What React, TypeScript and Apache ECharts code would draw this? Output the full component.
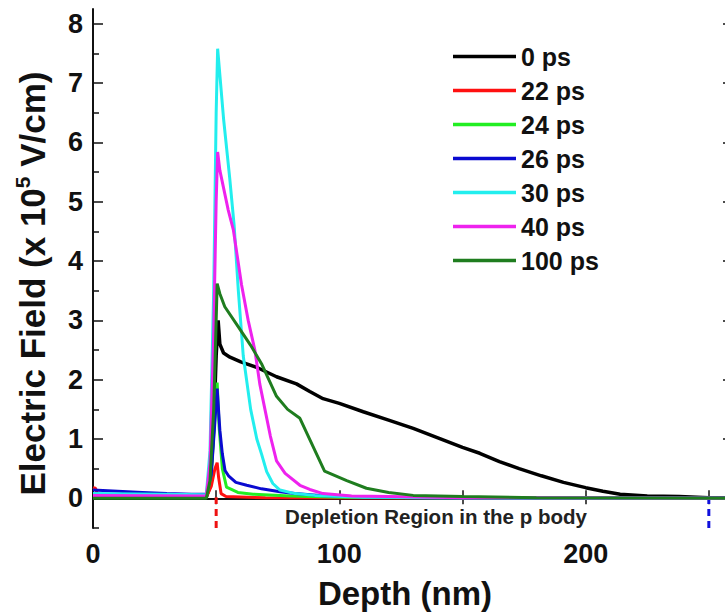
import React, { useEffect, useRef } from "react";
import * as echarts from "echarts";

const seriesNames = ["0 ps", "22 ps", "24 ps", "26 ps", "30 ps", "40 ps", "100 ps"];
const seriesColors = ["#000000", "#ff1010", "#22ee22", "#0a0ad0", "#22eeee", "#ee22ee", "#1f7d1f"];

const ps0: number[][] = [
  [0, 0.02], [46, 0.02], [47.5, 0.2], [49, 1.2], [50, 2.4], [50.8, 3.0], [51.5, 2.6], [53, 2.45],
  [55.6, 2.38], [60, 2.3], [66.4, 2.21], [74.5, 2.05], [82.6, 1.93], [88, 1.8], [93.4, 1.68],
  [100, 1.6], [109.7, 1.46], [120, 1.32], [130, 1.18], [140, 1.02], [150, 0.86], [157, 0.76],
  [165, 0.62], [173, 0.5], [182, 0.38], [191, 0.27], [200, 0.18], [207, 0.12], [214, 0.07],
  [225, 0.04], [238, 0.03], [250, 0.01], [259, 0.01],
];
const ps22: number[][] = [
  [0, 0.18], [1, 0.17], [2, 0.05], [3, 0.02], [46, 0.02], [48, 0.2], [49.5, 0.5], [50.4, 0.6],
  [51, 0.35], [52, 0.08], [54, 0.03], [70, 0.01], [259, 0],
];
const ps24: number[][] = [
  [0, 0.03], [46, 0.03], [48, 0.4], [49.5, 1.4], [50.4, 1.95], [51.2, 1.2], [52.5, 0.5],
  [54.2, 0.19], [58.8, 0.1], [65, 0.07], [80, 0.04], [100, 0.02], [130, 0.01], [259, 0],
];
const ps26: number[][] = [
  [0, 0.14], [10, 0.12], [20, 0.1], [30, 0.08], [40, 0.07], [46, 0.07], [48, 0.4], [49.5, 1.3],
  [50.4, 1.85], [51.5, 1.15], [52.5, 0.75], [53.6, 0.47], [55, 0.38], [58, 0.27], [62.4, 0.22],
  [68.4, 0.16], [75.9, 0.11], [82, 0.08], [92, 0.05], [105, 0.03], [130, 0.01], [259, 0],
];
const ps30: number[][] = [
  [0, 0.08], [46, 0.06], [47.5, 0.8], [49, 3.5], [50, 6.5], [50.6, 7.58], [53, 6.4], [55.5, 5.4],
  [57.3, 4.6], [59, 3.5], [61, 2.4], [64, 1.5], [66.5, 1.0], [68.4, 0.75], [70.5, 0.45],
  [73, 0.25], [75.9, 0.14], [82, 0.08], [90, 0.05], [110, 0.02], [140, 0.01], [259, 0],
];
const ps40: number[][] = [
  [0, 0.05], [46, 0.04], [47.5, 0.6], [49, 2.8], [50, 5.0], [50.6, 5.84], [51.5, 5.53],
  [54.9, 4.86], [57, 4.52], [60.3, 3.6], [63, 3.0], [65.7, 2.5], [67.7, 1.93], [69.8, 1.5],
  [72, 1.05], [74.5, 0.63], [78, 0.42], [84, 0.22], [88, 0.15], [93.4, 0.08], [105, 0.04],
  [120, 0.03], [150, 0.01], [259, 0],
];
const ps100: number[][] = [
  [0, 0.0], [46, 0.0], [47.5, 0.3], [49, 1.5], [50, 3.0], [50.4, 3.62], [51.5, 3.45],
  [53.5, 3.23], [59, 2.89], [64, 2.58], [68.4, 2.27], [74.5, 1.72], [79, 1.5], [84, 1.35],
  [94, 0.46], [103, 0.3], [111, 0.17], [120, 0.1], [130, 0.05],
  [150, 0.03], [180, 0.01], [259, 0],
];
const seriesData = [ps0, ps22, ps24, ps26, ps30, ps40, ps100];

const redMarker: number[][] = [[50, -0.5], [50, 0.02]];
const blueMarker: number[][] = [[250, -0.5], [250, 0.02]];

const xLabelValues = [0, 100, 200];
const xTickValues = [50, 100, 150, 200, 250];
const yLabelValues = [0, 1, 2, 3, 4, 5, 6, 7, 8];
const yMinorValues = [-0.5, 0.5, 1.5, 2.5, 3.5, 4.5, 5.5, 6.5, 7.5];

const X_MIN = 0;
const X_MAX = 259;
const Y_MIN = -0.5;
const Y_MAX = 8.25;

const FONT = "Liberation Sans, Arial, sans-serif";

export default function App() {
  const ref = useRef<HTMLDivElement>(null);
  useEffect(() => {
    if (!ref.current) return;
    const chart = echarts.init(ref.current, undefined, { renderer: "svg" });
    const axisLine = { show: true, lineStyle: { color: "#111", width: 2 } };
    const option: any = {
      animation: false,
      backgroundColor: "#ffffff",
      grid: { left: 93, top: 9, right: 9, bottom: 88, containLabel: false, outerBoundsMode: "none" },
      legend: {
        orient: "vertical",
        left: 448,
        top: 39,
        icon: "rect",
        itemWidth: 63,
        itemHeight: 3.5,
        itemGap: 9,
        data: seriesNames,
        textStyle: { fontFamily: FONT, fontWeight: "bold", fontSize: 25, color: "#111", padding: [0, 0, 0, 0] },
      },
      xAxis: [
        {
          type: "value",
          min: X_MIN,
          max: X_MAX,
          position: "bottom",
          axisLine,
          splitLine: { show: false },
          axisTick: { show: true, inside: true, length: 8, customValues: xTickValues, lineStyle: { color: "#111", width: 1.5 } },
          axisLabel: {
            show: true,
            customValues: xLabelValues,
            margin: 12,
            fontFamily: FONT,
            fontWeight: "bold",
            fontSize: 27,
            color: "#111",
          },
          name: "Depth (nm)",
          nameLocation: "middle",
          nameGap: 49,
          nameTextStyle: { fontFamily: FONT, fontWeight: "bold", fontSize: 33, color: "#111", padding: [0, 14, 0, 0] },
        },
        {
          type: "value",
          min: X_MIN,
          max: X_MAX,
          position: "top",
          axisLine,
          splitLine: { show: false },
          axisLabel: { show: false },
          axisTick: { show: true, inside: true, length: 6, customValues: xTickValues, lineStyle: { color: "#111", width: 1.5 } },
        },
      ],
      yAxis: [
        {
          type: "value",
          min: Y_MIN,
          max: Y_MAX,
          position: "left",
          axisLine,
          splitLine: { show: false },
          axisTick: { show: true, inside: true, length: 10, customValues: yLabelValues, lineStyle: { color: "#111", width: 1.5 } },
          axisLabel: {
            show: true,
            customValues: yLabelValues,
            margin: 10,
            fontFamily: FONT,
            fontWeight: "bold",
            fontSize: 27,
            color: "#111",
          },
          name: "Electric Field (x 10{sup|5} V/cm)",
          nameLocation: "middle",
          nameRotate: 90,
          nameGap: 41,
          nameTextStyle: {
            fontFamily: FONT,
            fontWeight: "bold",
            fontSize: 35,
            color: "#111",
            lineHeight: 40,
            padding: [0, 30, 0, 0],
            rich: {
              sup: { fontFamily: FONT, fontWeight: "bold", fontSize: 21, color: "#111", verticalAlign: "top", lineHeight: 40, padding: [0, 0, 15, 0] },
            },
          },
        },
        {
          type: "value",
          min: Y_MIN,
          max: Y_MAX,
          position: "left",
          axisLine: { show: false },
          splitLine: { show: false },
          axisLabel: { show: false },
          axisTick: { show: true, inside: true, length: 6, customValues: yMinorValues, lineStyle: { color: "#111", width: 1.5 } },
        },
        {
          type: "value",
          min: Y_MIN,
          max: Y_MAX,
          position: "right",
          axisLine,
          splitLine: { show: false },
          axisLabel: { show: false },
          axisTick: { show: true, inside: true, length: 8, customValues: yLabelValues, lineStyle: { color: "#111", width: 1.5 } },
        },
      ],
      graphic: [
        {
          type: "text",
          x: 436,
          y: 516,
          style: {
            text: "Depletion Region in the p body",
            fontFamily: FONT,
            fontWeight: "bold",
            fontSize: 20.5,
            fill: "#222",
            align: "center",
            verticalAlign: "middle",
          },
          z: 10,
        },
      ],
      series: [
        {
          name: "redMarker",
          type: "line",
          data: redMarker,
          symbol: "none",
          lineStyle: { color: "#ee1111", width: 3, type: [7, 5] },
          silent: true,
        },
        {
          name: "blueMarker",
          type: "line",
          data: blueMarker,
          symbol: "none",
          lineStyle: { color: "#1010dd", width: 3, type: [7, 5] },
          silent: true,
        },
        ...seriesNames.map((n, i) => ({
          name: n,
          type: "line",
          data: seriesData[i],
          symbol: "none",
          showSymbol: false,
          color: seriesColors[i],
          itemStyle: { color: seriesColors[i] },
          lineStyle: { color: seriesColors[i], width: i === 0 ? 3.5 : 3 },
          z: 3 + i,
        })),
      ],
    };
    chart.setOption(option);
    return () => chart.dispose();
  }, []);
  return (
    <div style={{ position: "fixed", left: 0, top: 0, width: 725, height: 616, overflow: "hidden", background: "#fff" }}>
      <div ref={ref} style={{ width: 740, height: 616 }} />
    </div>
  );
}
